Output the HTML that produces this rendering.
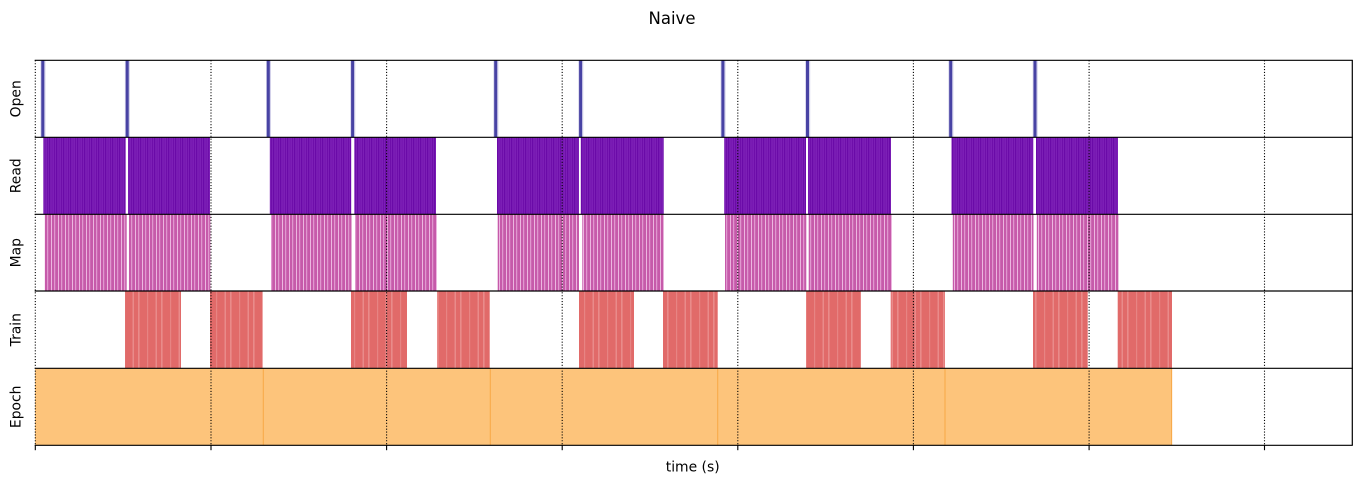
<!DOCTYPE html>
<html><head><meta charset="utf-8"><style>
html,body{margin:0;padding:0;background:#fff;}
svg{display:block;}
text{font-family:"DejaVu Sans","Liberation Sans",sans-serif;fill:#000;}
</style></head><body>
<svg width="1361" height="484" viewBox="0 0 1361 484" xmlns="http://www.w3.org/2000/svg">
<defs>
<pattern id="pRead" patternUnits="userSpaceOnUse" x="0" y="0" width="7" height="10">
<rect width="7" height="10" fill="#7c1fb6"/>
<rect x="0" width="1.2" height="10" fill="#6a0aa8"/>
<rect x="2.7" width="0.8" height="10" fill="#7212ad"/>
<rect x="5" width="0.9" height="10" fill="#6c0ca9"/>
</pattern>
<pattern id="pMap" patternUnits="userSpaceOnUse" x="0" y="0" width="7" height="10">
<rect width="7" height="10" fill="#c65aaa"/>
<rect x="2" width="1" height="10" fill="#ecb6e0"/>
<rect x="5.2" width="1" height="10" fill="#e6a6d8"/>
</pattern>
<pattern id="pTrain" patternUnits="userSpaceOnUse" x="0" y="0" width="23" height="10">
<rect width="23" height="10" fill="#e16a69"/>
<rect x="0" width="1.6" height="10" fill="#e98b8a"/>
<rect x="9" width="1.2" height="10" fill="#e78483"/>
<rect x="17.5" width="1.5" height="10" fill="#e98b8a"/>
</pattern>
</defs>

<!-- Title -->
<text x="672" y="24" font-size="16.5" text-anchor="middle">Naive</text>

<!-- Open row -->
<g>
<rect x="40.5" y="60.3" width="5" height="77" fill="#d3d1ea"/><rect x="41.3" y="60.3" width="3" height="77" fill="#4843a4"/>
<rect x="124.9" y="60.3" width="5" height="77" fill="#d3d1ea"/><rect x="125.7" y="60.3" width="3" height="77" fill="#4843a4"/>
<rect x="266" y="60.3" width="5" height="77" fill="#d3d1ea"/><rect x="266.8" y="60.3" width="3" height="77" fill="#4843a4"/>
<rect x="350.3" y="60.3" width="5" height="77" fill="#d3d1ea"/><rect x="351.1" y="60.3" width="3" height="77" fill="#4843a4"/>
<rect x="493.4" y="60.3" width="5" height="77" fill="#d3d1ea"/><rect x="494.2" y="60.3" width="3" height="77" fill="#4843a4"/>
<rect x="578.3" y="60.3" width="5" height="77" fill="#d3d1ea"/><rect x="579.1" y="60.3" width="3" height="77" fill="#4843a4"/>
<rect x="720.6" y="60.3" width="5" height="77" fill="#d3d1ea"/><rect x="721.4" y="60.3" width="3" height="77" fill="#4843a4"/>
<rect x="805.2" y="60.3" width="5" height="77" fill="#d3d1ea"/><rect x="806" y="60.3" width="3" height="77" fill="#4843a4"/>
<rect x="948.4" y="60.3" width="5" height="77" fill="#d3d1ea"/><rect x="949.2" y="60.3" width="3" height="77" fill="#4843a4"/>
<rect x="1032.7" y="60.3" width="5" height="77" fill="#d3d1ea"/><rect x="1033.5" y="60.3" width="3" height="77" fill="#4843a4"/>
</g>

<!-- Read row -->
<g fill="url(#pRead)">
<rect x="43.3" y="137.3" width="82.4" height="77"/>
<rect x="128" y="137.3" width="82" height="77"/>
<rect x="269.8" y="137.3" width="81.4" height="77"/>
<rect x="354.3" y="137.3" width="81.7" height="77"/>
<rect x="497" y="137.3" width="82" height="77"/>
<rect x="580.8" y="137.3" width="82.9" height="77"/>
<rect x="724.2" y="137.3" width="81.8" height="77"/>
<rect x="808" y="137.3" width="83" height="77"/>
<rect x="951.5" y="137.3" width="81.8" height="77"/>
<rect x="1036" y="137.3" width="82" height="77"/>
</g>

<!-- Map row -->
<g fill="url(#pMap)">
<rect x="44.7" y="214.3" width="82" height="76.7"/>
<rect x="128.9" y="214.3" width="81.4" height="76.7"/>
<rect x="271" y="214.3" width="80.5" height="76.7"/>
<rect x="355" y="214.3" width="82" height="76.7"/>
<rect x="497.7" y="214.3" width="81.3" height="76.7"/>
<rect x="582.3" y="214.3" width="81.4" height="76.7"/>
<rect x="725" y="214.3" width="81.3" height="76.7"/>
<rect x="808.7" y="214.3" width="83.3" height="76.7"/>
<rect x="952.8" y="214.3" width="80.7" height="76.7"/>
<rect x="1036.8" y="214.3" width="81.7" height="76.7"/>
</g>

<!-- Train row -->
<g fill="url(#pTrain)">
<rect x="125" y="291" width="56" height="77.3"/>
<rect x="210" y="291" width="52.7" height="77.3"/>
<rect x="351" y="291" width="56" height="77.3"/>
<rect x="437" y="291" width="52.7" height="77.3"/>
<rect x="579" y="291" width="55" height="77.3"/>
<rect x="663" y="291" width="54.7" height="77.3"/>
<rect x="806" y="291" width="55" height="77.3"/>
<rect x="890.7" y="291" width="54.3" height="77.3"/>
<rect x="1033" y="291" width="54.7" height="77.3"/>
<rect x="1117.7" y="291" width="54.3" height="77.3"/>
</g>

<!-- Epoch row -->
<g fill="#fdc47b">
<rect x="35" y="368.3" width="1137" height="77"/>
</g>
<g stroke="#f8aa4a" stroke-width="1.1">
<line x1="263.3" y1="368.3" x2="263.3" y2="445.3"/>
<line x1="490.3" y1="368.3" x2="490.3" y2="445.3"/>
<line x1="717.7" y1="368.3" x2="717.7" y2="445.3"/>
<line x1="945" y1="368.3" x2="945" y2="445.3"/>
<line x1="1171.6" y1="368.3" x2="1171.6" y2="445.3"/>
</g>

<!-- grid lines -->
<g stroke="#000" stroke-width="1.1" stroke-dasharray="1.1,1.8">
<line x1="35.3" y1="60.3" x2="35.3" y2="445.3"/>
<line x1="211" y1="60.3" x2="211" y2="445.3"/>
<line x1="386.6" y1="60.3" x2="386.6" y2="445.3"/>
<line x1="562.2" y1="60.3" x2="562.2" y2="445.3"/>
<line x1="737.8" y1="60.3" x2="737.8" y2="445.3"/>
<line x1="913.4" y1="60.3" x2="913.4" y2="445.3"/>
<line x1="1089.1" y1="60.3" x2="1089.1" y2="445.3"/>
<line x1="1264.5" y1="60.3" x2="1264.5" y2="445.3"/>
</g>

<!-- spines -->
<g stroke="#000" stroke-width="1.2" fill="none">
<line x1="34.7" y1="60.3" x2="1352.8" y2="60.3"/>
<line x1="34.7" y1="137.3" x2="1352.8" y2="137.3"/>
<line x1="34.7" y1="214.3" x2="1352.8" y2="214.3"/>
<line x1="34.7" y1="291" x2="1352.8" y2="291"/>
<line x1="34.7" y1="368.3" x2="1352.8" y2="368.3"/>
<line x1="34.7" y1="445.3" x2="1352.8" y2="445.3"/>
<line x1="1352.3" y1="60.3" x2="1352.3" y2="445.3"/>
</g>

<!-- ticks -->
<g stroke="#000" stroke-width="1.1">
<line x1="35.3" y1="445.3" x2="35.3" y2="450.2"/>
<line x1="211" y1="445.3" x2="211" y2="450.2"/>
<line x1="386.6" y1="445.3" x2="386.6" y2="450.2"/>
<line x1="562.2" y1="445.3" x2="562.2" y2="450.2"/>
<line x1="737.8" y1="445.3" x2="737.8" y2="450.2"/>
<line x1="913.4" y1="445.3" x2="913.4" y2="450.2"/>
<line x1="1089.1" y1="445.3" x2="1089.1" y2="450.2"/>
<line x1="1264.5" y1="445.3" x2="1264.5" y2="450.2"/>
</g>

<!-- y labels -->
<g font-size="13.9" text-anchor="middle">
<text transform="translate(20.5,98.8) rotate(-90)">Open</text>
<text transform="translate(20.5,175.8) rotate(-90)">Read</text>
<text transform="translate(20.5,252.7) rotate(-90)">Map</text>
<text transform="translate(20.5,329.7) rotate(-90)">Train</text>
<text transform="translate(20.5,406.8) rotate(-90)">Epoch</text>
</g>

<!-- x label -->
<text x="692.7" y="471.5" font-size="13.9" text-anchor="middle">time (s)</text>
</svg>
</body></html>
